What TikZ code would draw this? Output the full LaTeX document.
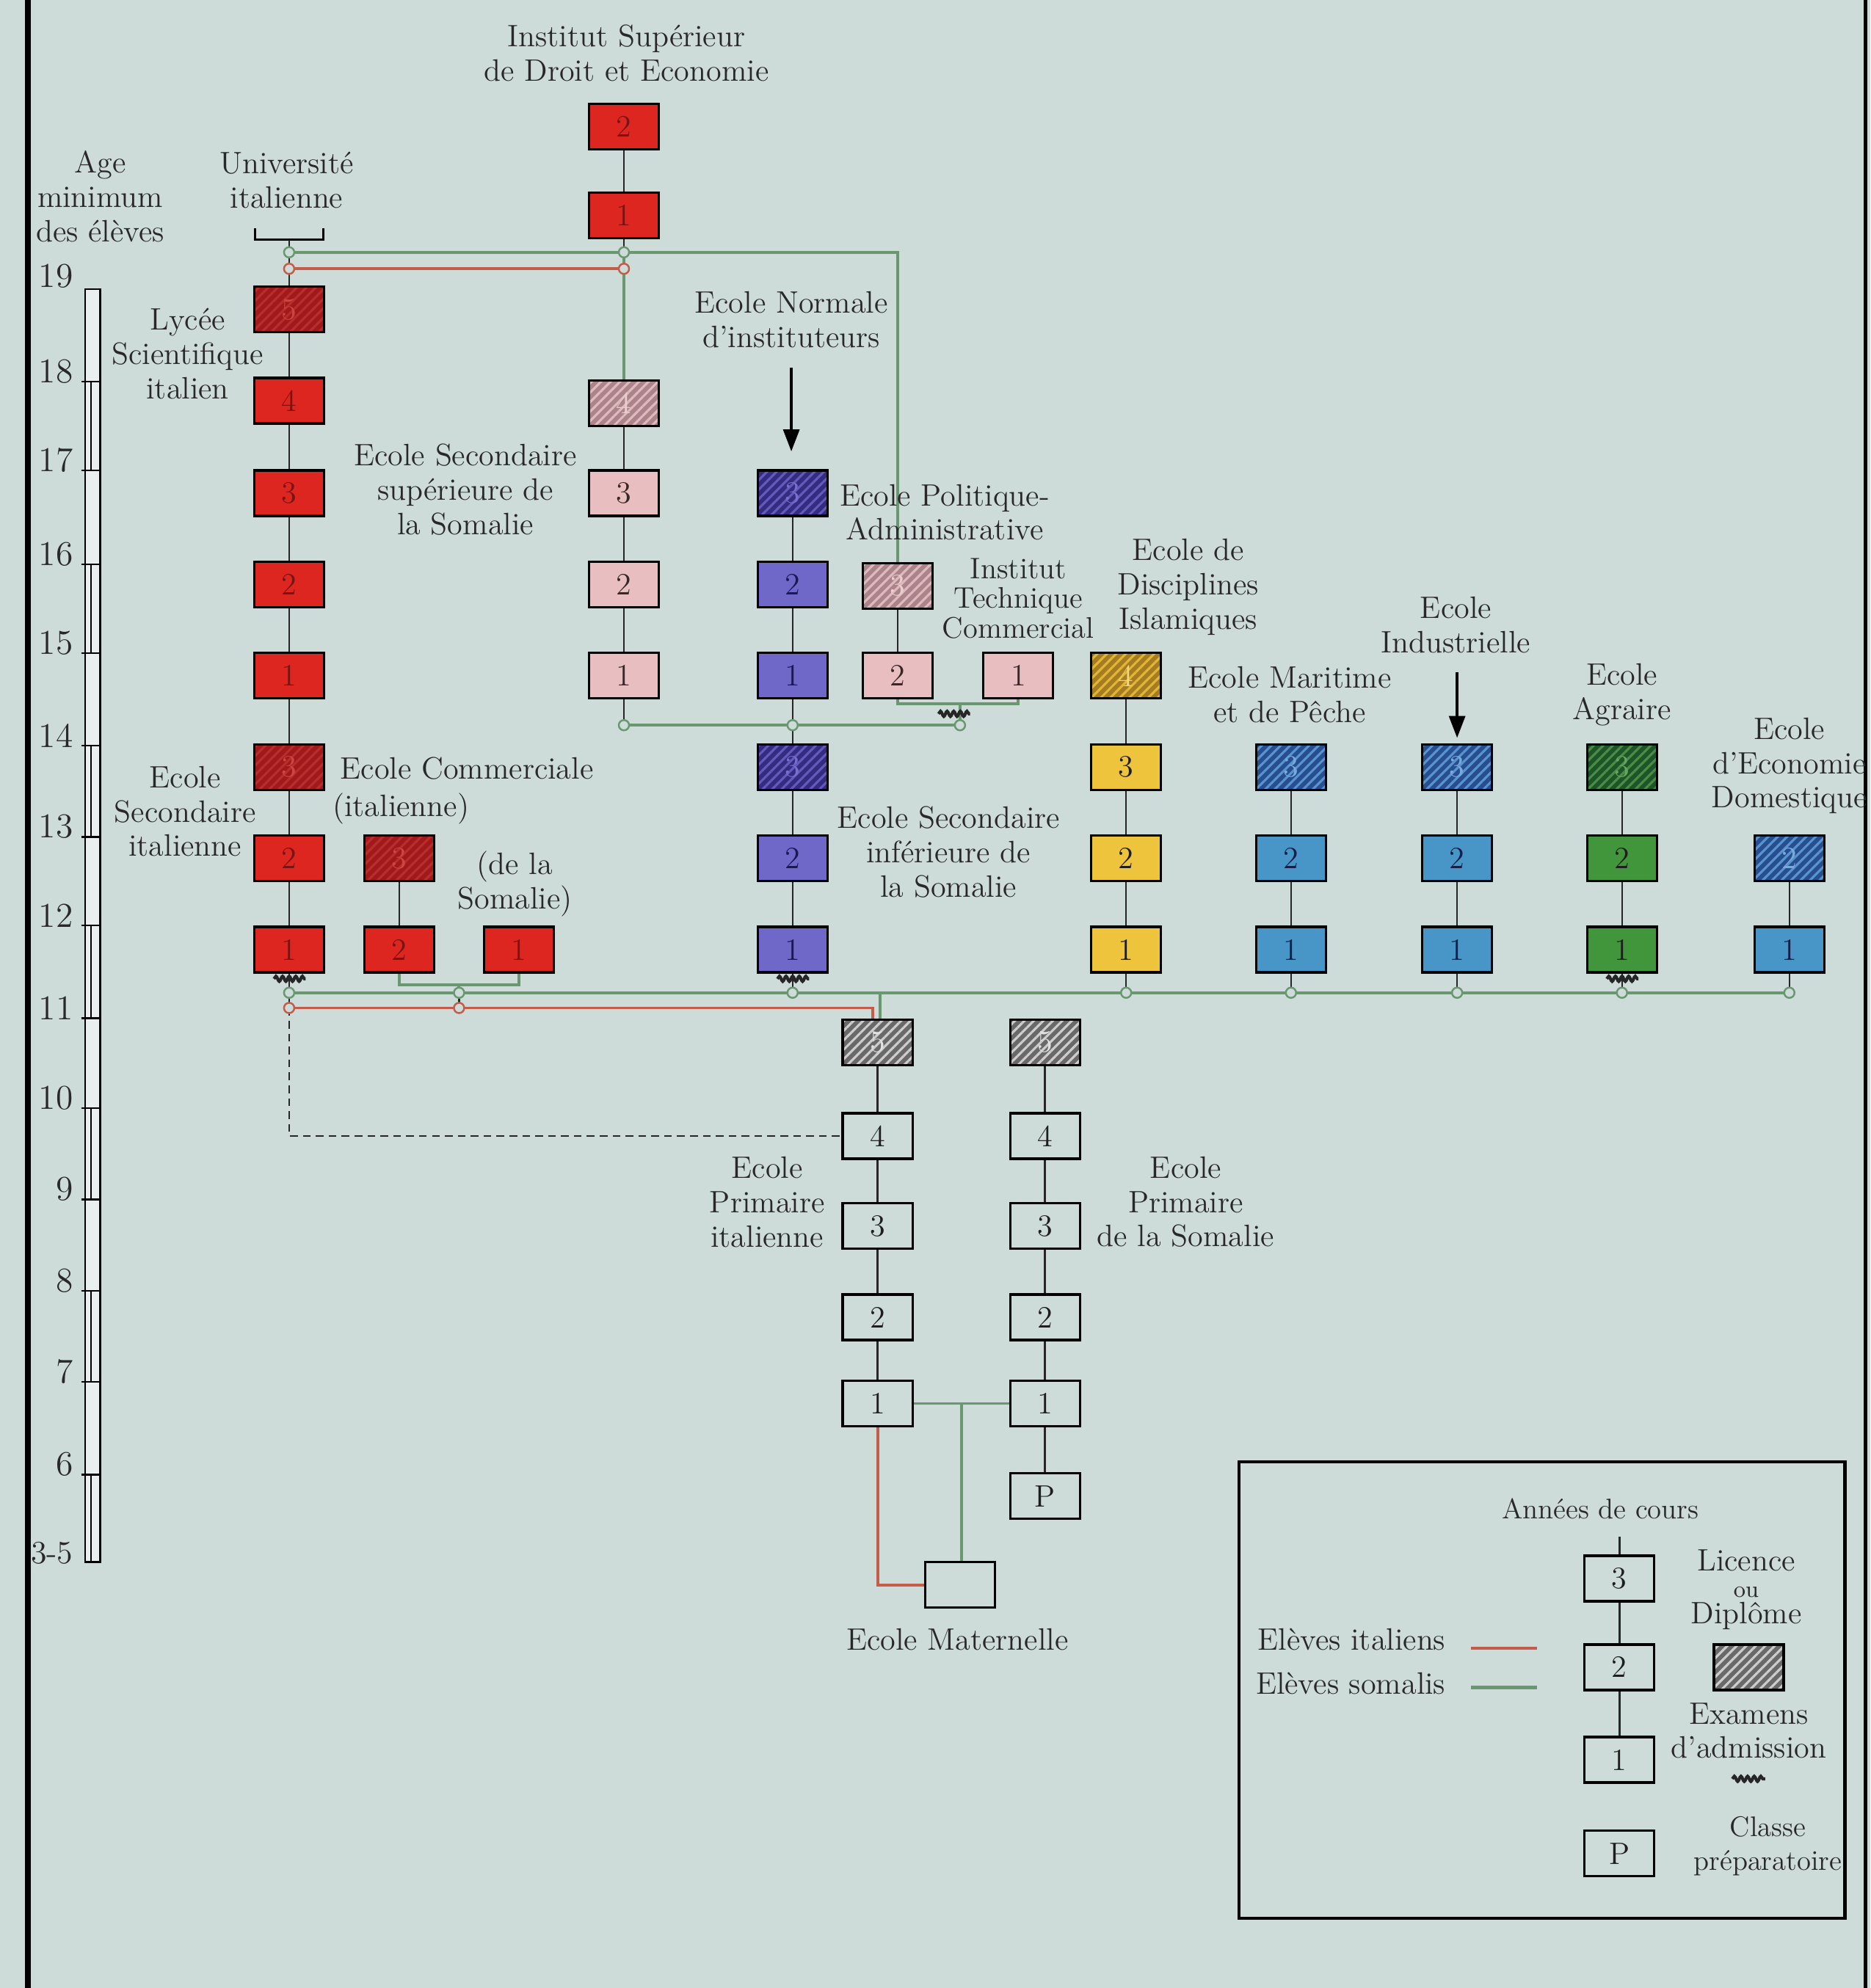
\documentclass[tikz,border=0pt]{standalone}
\usepackage{fontspec}
\usetikzlibrary{arrows.meta,patterns.meta,decorations.pathmorphing}
\definecolor{cBg}{RGB}{205,219,217}
\definecolor{cTxt}{RGB}{40,40,40}
\definecolor{cDark}{RGB}{30,30,30}
\definecolor{cRed}{RGB}{222,38,32}
\definecolor{cRedT}{RGB}{120,20,20}
\definecolor{cDRed}{RGB}{160,26,28}
\definecolor{cDRedH}{RGB}{185,45,45}
\definecolor{cDRedT}{RGB}{205,70,65}
\definecolor{cPink}{RGB}{232,190,192}
\definecolor{cPinkT}{RGB}{55,40,40}
\definecolor{cRosy}{RGB}{170,132,138}
\definecolor{cRosyH}{RGB}{222,185,190}
\definecolor{cRosyT}{RGB}{235,205,205}
\definecolor{cPurp}{RGB}{112,104,200}
\definecolor{cPurpT}{RGB}{25,25,85}
\definecolor{cDPurp}{RGB}{52,44,128}
\definecolor{cDPurpH}{RGB}{100,90,185}
\definecolor{cDPurpT}{RGB}{120,110,205}
\definecolor{cYel}{RGB}{238,196,60}
\definecolor{cGold}{RGB}{165,125,30}
\definecolor{cGoldH}{RGB}{225,180,60}
\definecolor{cGoldT}{RGB}{240,215,120}
\definecolor{cBlue}{RGB}{72,150,200}
\definecolor{cBlueT}{RGB}{20,30,70}
\definecolor{cDBlue}{RGB}{38,78,145}
\definecolor{cDBlueH}{RGB}{90,148,205}
\definecolor{cDBlueT}{RGB}{120,170,220}
\definecolor{cGreen}{RGB}{65,150,60}
\definecolor{cDGreen}{RGB}{30,85,40}
\definecolor{cDGreenH}{RGB}{75,140,70}
\definecolor{cDGreenT}{RGB}{100,165,95}
\definecolor{cGray}{RGB}{105,105,105}
\definecolor{cGrayH}{RGB}{205,205,205}
\definecolor{cGrayT}{RGB}{225,225,225}
\definecolor{cGL}{RGB}{105,152,112}
\definecolor{cRL}{RGB}{195,92,72}
\begin{document}
\begin{tikzpicture}[x=0.17275mm,y=-0.17275mm,
  every node/.style={font=\fontsize{12}{13.3}\selectfont, text=cTxt},
  bx/.style={draw=black, line width=0.9pt, minimum width=9.5mm, minimum height=6.2mm, inner sep=0pt},
  hb/.style 2 args={bx, preaction={fill=#1}, preaction={pattern={Lines[angle=45,distance=2.6pt,line width=0.9pt]}, pattern color=#2}},
  bRed/.style={bx, fill=cRed, text=cRedT},
  bDRed/.style={hb={cDRed}{cDRedH}, text=cDRedT},
  bPink/.style={bx, fill=cPink, text=cPinkT},
  bRosy/.style={hb={cRosy}{cRosyH}, text=cRosyT},
  bPurp/.style={bx, fill=cPurp, text=cPurpT},
  bDPurp/.style={hb={cDPurp}{cDPurpH}, text=cDPurpT},
  bYel/.style={bx, fill=cYel, text=cDark},
  bGold/.style={hb={cGold}{cGoldH}, text=cGoldT},
  bBlue/.style={bx, fill=cBlue, text=cBlueT},
  bDBlue/.style={hb={cDBlue}{cDBlueH}, text=cDBlueT},
  bGreen/.style={bx, fill=cGreen, text=cDark},
  bDGreen/.style={hb={cDGreen}{cDGreenH}, text=cDGreenT},
  bGray/.style={hb={cGray}{cGrayH}, text=cGrayT},
  bWhite/.style={bx, fill=cBg, text=cDark},
  blk/.style={draw=black!85, line width=0.7pt},
  gln/.style={draw=cGL, line width=1.1pt},
  rln/.style={draw=cRL, line width=1.1pt},
  gdot/.style={circle, draw=cGL, fill=cBg, line width=0.7pt, inner sep=0pt, minimum size=1.4mm},
  rdot/.style={circle, draw=cRL, fill=cBg, line width=0.7pt, inner sep=0pt, minimum size=1.4mm},
  wavy/.style={draw=black!85, line width=1.2pt, decorate, decoration={snake, amplitude=0.35mm, segment length=0.9mm}},
  arr/.style={draw=black, line width=1pt, -{Triangle[length=3mm,width=2.2mm]}},
  lbl/.style={align=center},
]
\useasboundingbox (0,0) rectangle (1475,1568);
\fill[cBg] (0,0) rectangle (1475,1568);
% frame
\draw[line width=2pt] (22,0) -- (22,1568);
\draw[line width=1.5pt] (1471,0) -- (1471,1568);

% age bar
\filldraw[fill=white!55!cBg, draw=black, line width=0.7pt] (67,228) rectangle (79,1232);
\foreach \y in {301,371,445,515,588,660,730,803,874,946,1018,1090,1163}
  \draw[black, line width=0.7pt] (64,\y) -- (79,\y);
\foreach \a/\b in {301/371,445/515,588/660,730/803,874/946,1018/1090,1163/1232}
  \draw[black, line width=0.6pt] (72,\a) -- (72,\b);
\foreach \y/\t in {218/19,293/18,363/17,437/16,507/15,580/14,652/13,722/12,795/11,866/10,938/9,1010/8,1082/7,1155/6}
  \node[anchor=east, inner sep=0pt, font=\fontsize{13.5}{14}\selectfont] (age\t) at (58,\y) {\t};
\node[anchor=east, inner sep=0pt, font=\fontsize{12.5}{14}\selectfont] (age35) at (58,1225) {3-5};

% boxes
\node[bRed] (I2) at (492,100) {2};
\node[bRed] (I1) at (492,170) {1};
\node[bDRed] (L5) at (228,244) {5};
\node[bRed] (L4) at (228,316) {4};
\node[bRed] (L3) at (228,389) {3};
\node[bRed] (L2) at (228,461) {2};
\node[bRed] (L1) at (228,533) {1};
\node[bDRed] (S3) at (228,605) {3};
\node[bRed] (S2) at (228,677) {2};
\node[bRed] (S1) at (228,749) {1};
\node[bDRed] (C3) at (315,677) {3};
\node[bRed] (C2) at (315,749) {2};
\node[bRed] (C1) at (409,749) {1};
\node[bRosy] (U4) at (492,318) {4};
\node[bPink] (U3) at (492,389) {3};
\node[bPink] (U2) at (492,461) {2};
\node[bPink] (U1) at (492,533) {1};
\node[bDPurp] (N3) at (625,389) {3};
\node[bPurp] (N2) at (625,461) {2};
\node[bPurp] (N1) at (625,533) {1};
\node[bDPurp] (E3) at (625,605) {3};
\node[bPurp] (E2) at (625,677) {2};
\node[bPurp] (E1) at (625,749) {1};
\node[bRosy] (P3) at (708,462) {3};
\node[bPink] (P2) at (708,533) {2};
\node[bPink] (P1) at (803,533) {1};
\node[bGold] (D4) at (888,533) {4};
\node[bYel] (D3) at (888,605) {3};
\node[bYel] (D2) at (888,677) {2};
\node[bYel] (D1) at (888,749) {1};
\node[bDBlue] (M3) at (1018,605) {3};
\node[bBlue] (M2) at (1018,677) {2};
\node[bBlue] (M1) at (1018,749) {1};
\node[bDBlue] (T3) at (1149,605) {3};
\node[bBlue] (T2) at (1149,677) {2};
\node[bBlue] (T1) at (1149,749) {1};
\node[bDGreen] (A3) at (1279,605) {3};
\node[bGreen] (A2) at (1279,677) {2};
\node[bGreen] (A1) at (1279,749) {1};
\node[bDBlue] (H2) at (1411,677) {2};
\node[bBlue] (H1) at (1411,749) {1};
\node[bGray] (Q5) at (692,822) {5};
\node[bWhite] (Q4) at (692,896) {4};
\node[bWhite] (Q3) at (692,967) {3};
\node[bWhite] (Q2) at (692,1039) {2};
\node[bWhite] (Q1) at (692,1107) {1};
\node[bGray] (R5) at (824,822) {5};
\node[bWhite] (R4) at (824,896) {4};
\node[bWhite] (R3) at (824,967) {3};
\node[bWhite] (R2) at (824,1039) {2};
\node[bWhite] (R1) at (824,1107) {1};
\node[bWhite] (RP) at (824,1180) {P};
\node[bWhite] (MAT) at (757,1250) {};

% junction coordinates
\coordinate (ub) at (228,189);
\coordinate (ga) at (228,199); \coordinate (ra) at (228,212);
\coordinate (gb) at (492,199); \coordinate (rb) at (492,212);
\coordinate (gc) at (708,199);
\coordinate (gm1) at (492,572); \coordinate (gm2) at (625,572); \coordinate (gm3) at (757,572);
\coordinate (tb1) at (708,555); \coordinate (tb2) at (803,555); \coordinate (tbm) at (757,555);
\coordinate (cb1) at (315,777); \coordinate (cb2) at (409,777); \coordinate (cbm) at (362,777);
\coordinate (g1) at (228,783); \coordinate (g2) at (362,783); \coordinate (g3) at (625,783);
\coordinate (g4) at (888,783); \coordinate (g5) at (1018,783); \coordinate (g6) at (1149,783);
\coordinate (g7) at (1279,783); \coordinate (g8) at (1411,783);
\coordinate (gq) at (694,783);
\coordinate (r1) at (228,795); \coordinate (r2) at (362,795); \coordinate (rq) at (688,795);
\coordinate (dq) at (228,896);
\coordinate (pm) at (758,1107);
\coordinate (qm) at (692,1250);
\coordinate (na0) at (624,290); \coordinate (na1) at (624,356);
\coordinate (ta0) at (1149,530); \coordinate (ta1) at (1149,582);

% connectors
\draw[black, line width=1pt] (201,180) -- (201,189) -- (255,189) -- (255,180);
\draw[blk] (ub) -- (ga) -- (ra) -- (L5.north);
\draw[blk] (I2.south) -- (I1.north);
\draw[blk] (I1.south) -- (gb);
\draw[gln] (gb) -- (rb) -- (U4.north);
\draw[gln] (ga) -- (gc) -- (P3.north);
\draw[rln] (ra) -- (rb);
\foreach \a/\b in {L5/L4,L4/L3,L3/L2,L2/L1,L1/S3,S3/S2,S2/S1,C3/C2,U4/U3,U3/U2,U2/U1,N3/N2,N2/N1,E3/E2,E2/E1,P3/P2,D4/D3,D3/D2,D2/D1,M3/M2,M2/M1,T3/T2,T2/T1,A3/A2,A2/A1,H2/H1,Q5/Q4,Q4/Q3,Q3/Q2,Q2/Q1,R5/R4,R4/R3,R3/R2,R2/R1,R1/RP}
  \draw[blk] (\a.south) -- (\b.north);
\draw[gln] (C2.south) -- (cb1) -- (cb2) -- (C1.south);
\draw[gln] (cbm) -- (g2);
\draw[blk] (g2) -- (r2);
\draw[blk] (S1.south) -- (g1) -- (r1);
\draw[blk] (U1.south) -- (gm1);
\draw[blk] (N1.south) -- (gm2) -- (E3.north);
\draw[gln] (P2.south) -- (tb1) -- (tb2) -- (P1.south);
\draw[gln] (tbm) -- (gm3);
\draw[gln] (gm1) -- (gm3);
\draw[blk] (E1.south) -- (g3);
\draw[blk] (D1.south) -- (g4);
\draw[blk] (M1.south) -- (g5);
\draw[blk] (T1.south) -- (g6);
\draw[blk] (A1.south) -- (g7);
\draw[blk] (H1.south) -- (g8);
\draw[gln] (g1) -- (g8);
\draw[gln] (gq) -- (gq |- Q5.north);
\draw[rln] (r1) -- (rq) -- (rq |- Q5.north);
\draw[blk, dash pattern=on 3pt off 2pt] (r1) -- (dq) -- (Q4.west);
\draw[gln] (Q1.east) -- (R1.west);
\draw[gln] (pm) -- (pm |- MAT.north);
\draw[rln] (Q1.south) -- (qm) -- (MAT.west);
\draw[arr] (na0) -- (na1);
\draw[arr] (ta0) -- (ta1);

% circles
\foreach \c in {ga,gb,gm1,gm2,gm3,g1,g2,g3,g4,g5,g6,g7,g8} \node[gdot] at (\c) {};
\foreach \c in {ra,rb,r1,r2} \node[rdot] at (\c) {};

% exam marks
\draw[wavy] (216,772) -- (241,772);
\draw[wavy] (613,772) -- (638,772);
\draw[wavy] (1267,772) -- (1292,772);
\draw[wavy] (740,563) -- (765,563);

% labels
\node[lbl] (tIS) at (494,42) {Institut Supérieur\\de Droit et Economie};
\node[lbl] (tAge) at (79,155) {Age\\minimum\\des élèves};
\node[lbl] (tUI) at (226,142) {Université\\italienne};
\node[lbl] (tLy) at (148,279) {Lycée\\Scientifique\\italien};
\node[lbl] (tSS) at (367,386) {Ecole Secondaire\\supérieure de\\la Somalie};
\node[lbl] (tEN) at (624,252) {Ecole Normale\\d’instituteurs};
\node[lbl] (tPA) at (745,404) {Ecole Politique-\\Administrative};
\node[lbl, font=\fontsize{11.5}{11.5}\selectfont] (tIT) at (803,472) {Institut\\Technique\\Commercial};
\node[lbl] (tDI) at (937,463) {Ecole de\\Disciplines\\Islamiques};
\node[lbl] (tMP) at (1017,548) {Ecole Maritime\\et de Pêche};
\node[lbl] (tIn) at (1148,493) {Ecole\\Industrielle};
\node[lbl] (tAg) at (1279,548) {Ecole\\Agraire};
\node[lbl] (tED) at (1411,604) {Ecole\\d’Economie\\Domestique};
\node[lbl] (tSI) at (146,640) {Ecole\\Secondaire\\italienne};
\node[anchor=west, inner sep=0pt] (tEC) at (268,606) {Ecole Commerciale};
\node[anchor=west, inner sep=0pt] (tIt) at (262,638) {(italienne)};
\node[lbl] (tDS) at (406,697) {(de la\\Somalie)};
\node[lbl] (tSF) at (748,672) {Ecole Secondaire\\inférieure de\\la Somalie};
\node[lbl] (tPI) at (605,948) {Ecole\\Primaire\\italienne};
\node[lbl] (tPS) at (935,948) {Ecole\\Primaire\\de la Somalie};
\node[lbl] (tMa) at (755,1293) {Ecole Maternelle};

% legend
\draw[black, line width=1.4pt] (977,1153) rectangle (1455,1513);
\node[lbl, font=\fontsize{11}{13}\selectfont] (tAn) at (1262,1190) {Années de cours};
\node[bWhite] (LG3) at (1277,1245) {3};
\node[bWhite] (LG2) at (1277,1315) {2};
\node[bWhite] (LG1) at (1277,1388) {1};
\node[bWhite] (LGP) at (1277,1462) {P};
\node[bGray] (LGH) at (1379,1315) {};
\coordinate (lgt) at (1277,1212);
\draw[blk] (lgt) -- (LG3.north);
\draw[blk] (LG3.south) -- (LG2.north);
\draw[blk] (LG2.south) -- (LG1.north);
\node[lbl, inner sep=0pt, font=\fontsize{12}{10.2}\selectfont] (tLi) at (1377,1254) {Licence\\{\fontsize{9}{9}\selectfont ou}\\Diplôme};
\node[lbl] (tEx) at (1379,1365) {Examens\\d’admission};
\draw[wavy] (1366,1403) -- (1392,1403);
\node[lbl, font=\fontsize{11}{13.3}\selectfont] (tCl) at (1394,1456) {Classe\\préparatoire};
\node[anchor=east] (tEI) at (1147,1293) {Elèves italiens};
\node[anchor=east] (tES) at (1147,1328) {Elèves somalis};
\coordinate (li0) at (1160,1300); \coordinate (li1) at (1212,1300);
\coordinate (ls0) at (1160,1331); \coordinate (ls1) at (1212,1331);
\draw[rln, line width=1.4pt] (li0) -- (li1);
\draw[gln, line width=1.4pt] (ls0) -- (ls1);
\end{tikzpicture}
\end{document}
